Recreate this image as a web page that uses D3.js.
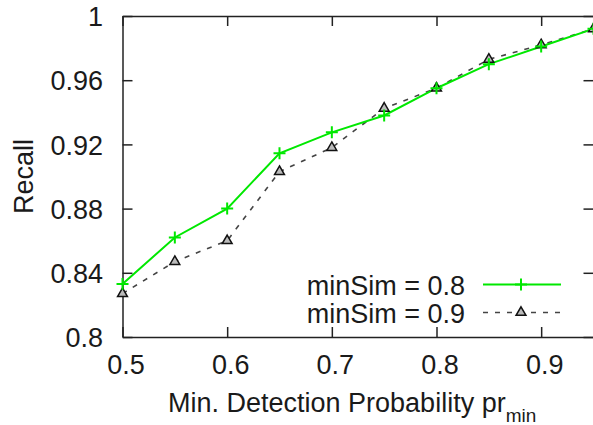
<!DOCTYPE html>
<html>
<head>
<meta charset="utf-8">
<script src="https://cdn.jsdelivr.net/npm/d3@7"></script>
<style>
  body { margin: 0; background: #fff; }
  svg text { font-family: "Liberation Sans", Arial, sans-serif; fill: #1a1a1a; }
</style>
</head>
<body>
<div id="wrapper"></div>
<script>
// data
const probs = [0.5, 0.55, 0.6, 0.65, 0.7, 0.75, 0.8, 0.85, 0.9, 0.95]
const recallSim08 = [0.833, 0.862, 0.880, 0.9145, 0.9275, 0.938, 0.955, 0.970, 0.981, 0.992]
const recallSim09 = [0.827, 0.847, 0.860, 0.903, 0.918, 0.9425, 0.955, 0.973, 0.982, 0.992]
const xTicks = [0.5, 0.6, 0.7, 0.8, 0.9]
const yTicks = [0.8, 0.84, 0.88, 0.92, 0.96, 1]
const seriesNames = ["minSim = 0.8", "minSim = 0.9"]

const dimensions = {
  width: 593,
  height: 425,
  margin: { top: 16, right: -0.5, bottom: 88, left: 122.5 }
}
dimensions.boundedWidth = dimensions.width - dimensions.margin.left - dimensions.margin.right
dimensions.boundedHeight = dimensions.height - dimensions.margin.top - dimensions.margin.bottom

const green = "#00e800"
const axisColor = "#222"

const wrapper = d3.select("#wrapper")
  .append("svg")
  .attr("width", dimensions.width)
  .attr("height", dimensions.height)

const bounds = wrapper.append("g")
  .attr("transform", `translate(${dimensions.margin.left},${dimensions.margin.top})`)

// scales
const xScale = d3.scaleLinear()
  .domain([0.5, 0.95])
  .range([0, dimensions.boundedWidth])

const yScale = d3.scaleLinear()
  .domain([0.8, 1.0])
  .range([dimensions.boundedHeight, 0])

// axes, ticks point inward and are mirrored on top / right
const fmt = d => String(+d.toFixed(2))

const xAxis = bounds.append("g")
  .attr("transform", `translate(0,${dimensions.boundedHeight})`)
  .call(d3.axisBottom(xScale).tickValues(xTicks).tickSize(-10).tickSizeOuter(0).tickPadding(18).tickFormat(fmt))
xAxis.selectAll("text").attr("dx", 3)

const yAxis = bounds.append("g")
  .call(d3.axisLeft(yScale).tickValues(yTicks).tickSize(-10).tickSizeOuter(0).tickPadding(19.5).tickFormat(fmt))
yAxis.selectAll("text").attr("dy", "0.36em")

const topAxis = bounds.append("g")
  .call(d3.axisTop(xScale).tickValues(xTicks).tickSize(-10).tickSizeOuter(0).tickFormat(""))

const rightAxis = bounds.append("g")
  .attr("transform", `translate(${dimensions.boundedWidth},0)`)
  .call(d3.axisRight(yScale).tickValues(yTicks).tickSize(-10).tickSizeOuter(0).tickFormat(""))

bounds.selectAll(".domain, .tick line")
  .attr("stroke", axisColor)
  .attr("stroke-width", 1.5)
bounds.selectAll(".tick text")
  .attr("font-size", 27)
  .attr("fill", "#1a1a1a")
  .attr("font-family", "Liberation Sans, Arial, sans-serif")

// lines
const lineGen = ys => d3.line()
  .x((d, i) => xScale(probs[i]))
  .y(d => yScale(d))(ys)

bounds.append("path")
  .attr("d", lineGen(recallSim09))
  .attr("fill", "none")
  .attr("stroke", "#444")
  .attr("stroke-width", 1.6)
  .attr("stroke-dasharray", "5 7")

bounds.append("path")
  .attr("d", lineGen(recallSim08))
  .attr("fill", "none")
  .attr("stroke", green)
  .attr("stroke-width", 2)

// markers
const plusPath = "M-6,0H6M0,-6V6"
const triPath = d3.symbol().type(d3.symbolTriangle).size(42)()

bounds.selectAll(".tri")
  .data(recallSim09)
  .join("path")
  .attr("class", "tri")
  .attr("d", triPath)
  .attr("transform", (d, i) => `translate(${xScale(probs[i])},${yScale(d)})`)
  .attr("fill", "#bbb")
  .attr("stroke", "#111")
  .attr("stroke-width", 1.5)

bounds.selectAll(".plus")
  .data(recallSim08)
  .join("path")
  .attr("class", "plus")
  .attr("d", plusPath)
  .attr("transform", (d, i) => `translate(${xScale(probs[i])},${yScale(d)})`)
  .attr("stroke", green)
  .attr("stroke-width", 2)

// legend
const legend = wrapper.append("g")
const legendRows = [
  { name: seriesNames[0], y: 284.5, color: green, dash: null, width: 2, marker: plusPath },
  { name: seriesNames[1], y: 312.5, color: "#444", dash: "5 7", width: 1.6, marker: triPath }
]
legendRows.forEach(r => {
  legend.append("text")
    .attr("x", 465)
    .attr("y", r.y + 10)
    .attr("text-anchor", "end")
    .attr("font-size", 27)
    .text(r.name)
  legend.append("line")
    .attr("x1", 483).attr("x2", 561)
    .attr("y1", r.y).attr("y2", r.y)
    .attr("stroke", r.color)
    .attr("stroke-width", r.width)
    .attr("stroke-dasharray", r.dash)
  legend.append("path")
    .attr("d", r.marker)
    .attr("transform", `translate(521,${r.y})`)
    .attr("stroke", r.dash ? "#111" : green)
    .attr("stroke-width", r.dash ? 1.5 : 2)
    .attr("fill", r.dash ? "#bbb" : "none")
})

// axis titles
const xLabel = wrapper.append("text")
  .attr("x", 168)
  .attr("y", 412)
  .attr("font-size", 27)
xLabel.append("tspan").text("Min. Detection Probability pr")
xLabel.append("tspan")
  .attr("font-size", 19)
  .attr("dy", 9.5)
  .text("min")

wrapper.append("text")
  .attr("transform", `translate(33,${dimensions.margin.top + dimensions.boundedHeight / 2}) rotate(-90)`)
  .attr("text-anchor", "middle")
  .attr("font-size", 27)
  .text("Recall")
</script>
</body>
</html>
